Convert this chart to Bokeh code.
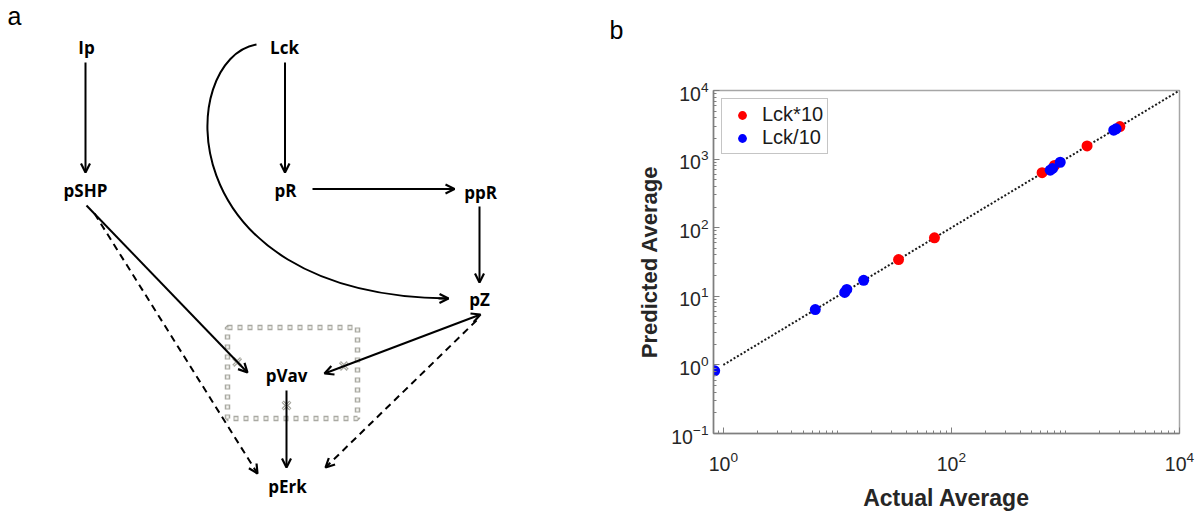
import math
from bokeh.plotting import figure
from bokeh.models import (Range1d, Arrow, OpenHead, ColumnDataSource, Legend,
                          LegendItem, FixedTicker)
from bokeh.layouts import row, column
from bokeh.embed import file_html
from bokeh.resources import INLINE
from bokeh.core.properties import value

# ---------------- panel a: signalling network (diagram coordinates, px) -------------
node_names = ["Ip", "Lck", "pSHP", "pR", "ppR", "pZ", "pVav", "pErk"]
node_x = [86, 284, 85, 285, 480, 479, 286, 287]
node_y = [47, 47, 190, 190, 192, 299, 375, 486]

solid_x0 = [85, 284.5, 312, 479, 86, 286]
solid_y0 = [62, 62, 188.5, 206, 205, 390]
solid_x1 = [85, 284.5, 454, 479, 247, 286]
solid_y1 = [172, 172, 188.5, 282, 372, 467]

double_x0 = [480]
double_y0 = [314]
double_x1 = [324]
double_y1 = [373]

dash_x0 = [94, 476]
dash_y0 = [213, 320]
dash_x1 = [257, 325]
dash_y1 = [473, 467]

curve_x0, curve_y0 = [256], [44]
curve_cx0, curve_cy0 = [176], [58]
curve_cx1, curve_cy1 = [165], [295]
curve_x1, curve_y1 = [448], [298]

box_left, box_right, box_top, box_bottom = [227], [357], [327], [418]

cut_x = [236.7, 343.3, 286]
cut_y = [361.5, 365.5, 405]

panel_tags = ["a", "b"]
tag_x = [14, 616]
tag_y = [15, 29]

# ---------------- panel b: predicted vs actual -------------
up_actual = [34.4, 71, 624, 801, 1547, 3000]
up_pred = [34.3, 71.3, 635, 807, 1556, 2980]
down_actual = [0.84, 6.4, 11.6, 12.1, 17.0, 735, 770, 900, 2650, 2780]
down_pred = [0.82, 6.4, 11.4, 12.6, 17.1, 690, 730, 900, 2640, 2760]
ref_line = [1, 10000]
x_major = [1, 100, 10000]
y_major = [0.1, 1, 10, 100, 1000, 10000]

FONT_NODE = "Open Sans"
FONT_AX = "Liberation Sans"

W_A = 625

# ---------------- figure a -------------
pa = figure(width=W_A, height=513, x_range=Range1d(0, W_A), y_range=Range1d(513, 0),
            output_backend="svg", toolbar_location=None, min_border=0,
            x_axis_location=None, y_axis_location=None)
pa.grid.visible = False
pa.outline_line_color = None

# dotted box made of hollow squares
pa.quad(left=box_left, right=box_right, top=box_top, bottom=box_bottom,
        fill_color=None, line_color="#a9a9a2", line_width=5.5, line_dash="5 5")
pa.quad(left=box_left, right=box_right, top=box_top, bottom=box_bottom,
        fill_color=None, line_color="#f4f4f0", line_width=2.5, line_dash="3 7",
        line_dash_offset=-1)

solid = ColumnDataSource(dict(x0=solid_x0, y0=solid_y0, x1=solid_x1, y1=solid_y1))
pa.add_layout(Arrow(end=OpenHead(size=9, line_width=2.2, line_color="black"),
                    x_start="x0", y_start="y0", x_end="x1", y_end="y1",
                    source=solid, line_width=2, line_color="black"))
dbl = ColumnDataSource(dict(x0=double_x0, y0=double_y0, x1=double_x1, y1=double_y1))
pa.add_layout(Arrow(start=OpenHead(size=9, line_width=2.2, line_color="black"),
                    end=OpenHead(size=9, line_width=2.2, line_color="black"),
                    x_start="x0", y_start="y0", x_end="x1", y_end="y1",
                    source=dbl, line_width=2, line_color="black"))
dsh = ColumnDataSource(dict(x0=dash_x0, y0=dash_y0, x1=dash_x1, y1=dash_y1))
pa.add_layout(Arrow(end=OpenHead(size=9, line_width=2.2, line_color="black"),
                    x_start="x0", y_start="y0", x_end="x1", y_end="y1",
                    source=dsh, line_width=2, line_color="black", line_dash="7 5"))

pa.bezier(x0=curve_x0, y0=curve_y0, x1=curve_x1, y1=curve_y1,
          cx0=curve_cx0, cy0=curve_cy0, cx1=curve_cx1, cy1=curve_cy1,
          line_color="black", line_width=2)
dx = curve_x1[0] - curve_cx1[0]
dy = curve_y1[0] - curve_cy1[0]
n = math.hypot(dx, dy)
tip = ColumnDataSource(dict(x0=[curve_x1[0] - 10 * dx / n], y0=[curve_y1[0] - 10 * dy / n],
                            x1=curve_x1, y1=curve_y1))
pa.add_layout(Arrow(end=OpenHead(size=9, line_width=2.2, line_color="black"),
                    x_start="x0", y_start="y0", x_end="x1", y_end="y1",
                    source=tip, line_width=2, line_color="black"))

pa.scatter(cut_x, cut_y, marker="x", size=11, line_color="#a8a8a0", line_width=3)
pa.scatter(cut_x, cut_y, marker="x", size=10, line_color="#f4f4f0", line_width=1)

pa.text(x=node_x, y=node_y, text=node_names, text_align="center", text_baseline="middle",
        text_font=value(FONT_NODE), text_font_style="bold", text_font_size="17px",
        text_color="black")
pa.text(x=tag_x, y=tag_y, text=panel_tags, text_align="center", text_baseline="middle",
        text_font=value(FONT_AX), text_font_size="25px", text_color="black")

# ---------------- figure b -------------
pb = figure(width=1199 - W_A, height=513, x_axis_type="log", y_axis_type="log",
            x_range=Range1d(0.82, 10000), y_range=Range1d(0.1, 10000),
            output_backend="svg", toolbar_location=None,
            min_border_left=88, min_border_right=20, min_border_top=90, min_border_bottom=72)
pb.grid.visible = False
pb.outline_line_color = "#a6a6a6"
pb.outline_line_width = 1.5

x_minor = [k * 10 ** d for d in range(-1, 4) for k in range(1, 10) if k * 10 ** d not in x_major]
y_minor = [k * 10.0 ** d for d in range(-1, 4) for k in range(2, 10)]
pb.xaxis.ticker = FixedTicker(ticks=x_major, minor_ticks=x_minor)
pb.yaxis.ticker = FixedTicker(ticks=y_major, minor_ticks=y_minor)

for ax in (pb.xaxis[0], pb.yaxis[0]):
    ax.major_tick_in = 6
    ax.major_tick_out = 0
    ax.minor_tick_in = 3
    ax.minor_tick_out = 0
    ax.axis_line_color = "#7f7f7f"
    ax.axis_line_width = 1.5
    ax.major_tick_line_color = "#7f7f7f"
    ax.minor_tick_line_color = "#7f7f7f"
    ax.major_label_text_font = FONT_AX
    ax.major_label_text_font_size = "19.5px"
    ax.major_label_text_color = "#262626"
    ax.axis_label_text_font = FONT_AX
    ax.axis_label_text_font_style = "bold"
    ax.axis_label_text_font_size = "22px"
    ax.axis_label_text_color = "#262626"

pb.xaxis.major_label_standoff = 17
pb.xaxis.axis_label_standoff = 11
pb.yaxis.major_label_standoff = 5
pb.yaxis.axis_label_standoff = 6

pb.xaxis.axis_label = "Actual Average"
pb.yaxis.axis_label = "Predicted Average"
pb.xaxis.axis_label_text_font_size = "23px"

pb.line(ref_line, ref_line, line_color="#1a1a1a", line_width=2, line_dash="2 2")
r_up = pb.scatter(up_actual, up_pred, size=11, fill_color="#ff0000", line_color=None)
r_down = pb.scatter(down_actual, down_pred, size=11, fill_color="#0000ff", line_color=None)

legend = Legend(items=[LegendItem(label="Lck*10", renderers=[r_up]),
                       LegendItem(label="Lck/10", renderers=[r_down])],
                location="top_left", margin=8, padding=4, spacing=0,
                glyph_width=32, glyph_height=22, label_height=22, label_standoff=4,
                label_text_font=FONT_AX, label_text_font_size="20px",
                label_text_color="#1a1a1a",
                border_line_color="#8c8c8c", border_line_width=1.2)
pb.add_layout(legend)

layout = row(column(pa), column(pb))
open("out.html", "w").write(file_html(layout, INLINE))
